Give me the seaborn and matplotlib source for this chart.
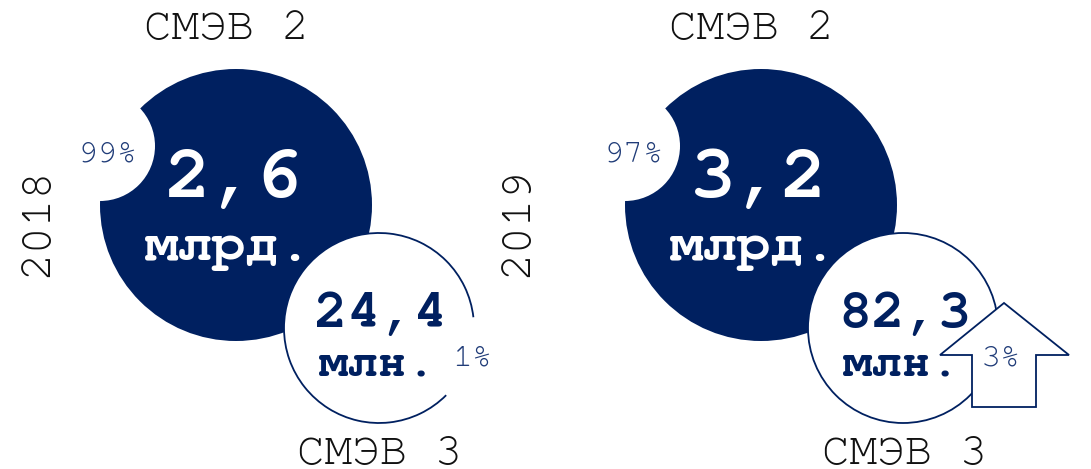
import matplotlib
matplotlib.use("Agg")
import matplotlib.pyplot as plt
from matplotlib.patches import Circle, Arc, Polygon
from matplotlib import font_manager
import seaborn as sns

# ---- data ----
years = ["2018", "2019"]
smev2_values = ["2,6", "3,2"]
smev2_unit = "млрд."
smev3_values = ["24,4", "82,3"]
smev3_unit = "млн."
smev2_share = [99, 97]
smev3_share = [1, 3]
label_top = "СМЭВ 2"
label_bottom = "СМЭВ 3"

NAVY = "#002060"
PCT = "#203c78"

sns.set_theme(style="white")
installed = {f.name for f in font_manager.fontManager.ttflist}
candidates = ["Courier New", "Nimbus Mono PS", "Nimbus Mono L", "FreeMono",
              "Courier 10 Pitch", "Liberation Mono", "DejaVu Sans Mono"]
fams = [f for f in candidates if f in installed] or ["DejaVu Sans Mono"]
plt.rcParams["font.family"] = fams

fig = plt.figure(figsize=(10.91, 4.69), dpi=100)
ax = fig.add_axes([0, 0, 1, 1])
ax.set_xlim(0, 1091)
ax.set_ylim(469, 0)
ax.set_aspect("equal")
ax.axis("off")

panel_dx = 525
for i, yr in enumerate(years):
    ox = i * panel_dx
    bigc = (236 + ox, 205)
    big_r = 136
    ax.add_patch(Circle(bigc, big_r, facecolor=NAVY, edgecolor="none", zorder=1))
    # white cut-out at the upper left
    ax.add_patch(Circle((100 + ox, 146), 55, facecolor="white", edgecolor="none", zorder=2))
    # small circle
    sc = (379 + ox if i == 0 else 378 + ox, 328)
    sr = 95
    ax.add_patch(Circle(sc, sr, facecolor="white", edgecolor="none", zorder=3))
    if i == 0:
        ax.add_patch(Arc(sc, 2 * sr, 2 * sr, theta1=45, theta2=353.5,
                         edgecolor=NAVY, lw=1.3, zorder=4))
    else:
        ax.add_patch(Circle(sc, sr, facecolor="none", edgecolor=NAVY, lw=1.3, zorder=4))
        arrow = Polygon([(1004, 303), (1069, 355), (1036, 355), (1036, 407),
                         (972, 407), (972, 355), (940, 355)], closed=True,
                        facecolor="white", edgecolor=NAVY, lw=1.3, zorder=5)
        ax.add_patch(arrow)

    ax.text(bigc[0] - 2, 181, smev2_values[i], color="white", fontsize=55,
            fontweight="bold", ha="center", va="center", zorder=6)
    ax.text(bigc[0] - 8, 248, smev2_unit, color="white", fontsize=40,
            fontweight="bold", ha="center", va="center", zorder=6)
    ax.text(sc[0] + 2, 315, smev3_values[i], color=NAVY, fontsize=40,
            fontweight="bold", ha="center", va="center", zorder=6)
    ax.text(sc[0] - 2, 365, smev3_unit, color=NAVY, fontsize=35,
            fontweight="bold", ha="center", va="center", zorder=6)
    ax.text(107 if i == 0 else 634, 155, f"{smev2_share[i]}%", color=PCT,
            fontsize=24, ha="center", va="center", zorder=6)
    ax.text(472 if i == 0 else 1001, 359, f"{smev3_share[i]}%", color=PCT,
            fontsize=24, ha="center", va="center", zorder=6)
    ax.text(227 + ox, 30, label_top, color="#111111", fontsize=33,
            ha="center", va="center", zorder=6)
    ax.text(380 + ox, 464, label_bottom, color="#111111", fontsize=33,
            ha="center", va="baseline", zorder=6)
    ax.text(38 + (480 if i == 1 else 0), 222, yr, color="#111111", fontsize=33,
            rotation=90, ha="center", va="center", zorder=6)

fig.savefig("out.png", dpi=100, facecolor="white")
